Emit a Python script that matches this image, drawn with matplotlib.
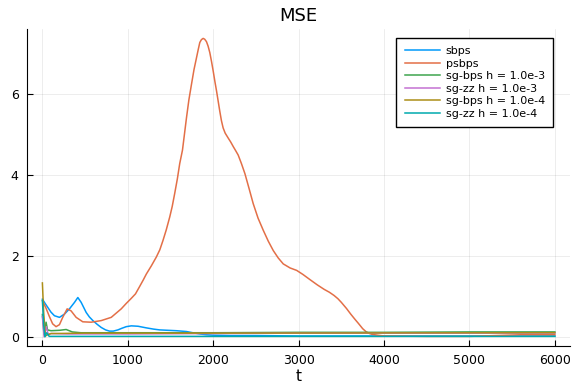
import matplotlib
matplotlib.use("Agg")
import matplotlib.pyplot as plt

# series names and colours (Plots.jl default palette)
labels = ["sbps", "psbps", "sg-bps h = 1.0e-3", "sg-zz h = 1.0e-3",
          "sg-bps h = 1.0e-4", "sg-zz h = 1.0e-4"]
colors = ["#009AFA", "#E36F47", "#3EA44E", "#C371D2", "#AC8E18", "#00A9AD"]

# sbps
t_sbps = [0, 30, 62, 100, 141, 200, 258, 317, 376, 415, 454, 513, 550, 591,
          640, 689, 740, 786, 830, 884, 930, 982, 1041, 1120, 1217, 1300,
          1373, 1470, 1569, 1687, 1760, 1843, 1920, 2000, 2200, 2500, 3000,
          4000, 5000, 6000]
mse_sbps = [0.93, 0.83, 0.73, 0.61, 0.52, 0.48, 0.56, 0.69, 0.85, 0.97, 0.85,
            0.60, 0.49, 0.40, 0.31, 0.23, 0.17, 0.14, 0.14, 0.17, 0.21, 0.25,
            0.27, 0.26, 0.22, 0.19, 0.17, 0.16, 0.15, 0.13, 0.10, 0.07, 0.05,
            0.04, 0.03, 0.03, 0.02, 0.02, 0.02, 0.02]

# psbps
t_psbps = [0, 40, 82, 120, 160, 200, 238, 290, 336, 395, 473, 571, 689, 806,
           923, 980, 1041, 1090, 1138, 1180, 1217, 1275, 1334, 1375, 1412,
           1450, 1491, 1520, 1549, 1580, 1608, 1640, 1660, 1687, 1715, 1745,
           1775, 1804, 1825, 1843, 1862, 1882, 1900, 1921, 1940, 1960, 1980,
           2000, 2020, 2039, 2058, 2077, 2096, 2116, 2140, 2175, 2205, 2234,
           2262, 2292, 2330, 2371, 2420, 2468, 2525, 2586, 2645, 2703, 2760,
           2820, 2900, 2977, 3050, 3134, 3220, 3300, 3360, 3415, 3460, 3500,
           3560, 3610, 3660, 3700, 3750, 3787, 3830, 3860, 3923, 4000, 4500,
           5000, 5300, 5600, 6000]
mse_psbps = [0.89, 0.72, 0.50, 0.32, 0.25, 0.30, 0.48, 0.69, 0.64, 0.48, 0.37,
             0.36, 0.40, 0.48, 0.69, 0.82, 0.95, 1.06, 1.24, 1.40, 1.55, 1.75,
             1.97, 2.15, 2.38, 2.64, 2.96, 3.22, 3.54, 3.90, 4.28, 4.61, 4.95,
             5.41, 5.85, 6.23, 6.60, 6.89, 7.10, 7.27, 7.34, 7.37, 7.35, 7.29,
             7.18, 7.02, 6.80, 6.56, 6.30, 6.07, 5.82, 5.57, 5.34, 5.16, 5.03,
             4.91, 4.81, 4.70, 4.60, 4.49, 4.28, 4.03, 3.66, 3.29, 2.93, 2.63,
             2.36, 2.13, 1.95, 1.80, 1.70, 1.64, 1.54, 1.41, 1.28, 1.17, 1.10,
             1.02, 0.94, 0.85, 0.70, 0.56, 0.43, 0.33, 0.20, 0.13, 0.08, 0.06,
             0.04, 0.02, 0.01, 0.01, 0.03, 0.05, 0.05]

# sg-bps h = 1e-3
t_sgbps3 = [0, 20, 43, 60, 100, 200, 278, 350, 450, 1000, 2000, 3000, 4000,
            5000, 6000]
mse_sgbps3 = [0.55, 0.05, 0.36, 0.17, 0.15, 0.16, 0.18, 0.12, 0.10, 0.10, 0.10,
              0.11, 0.11, 0.12, 0.12]

# sg-zz h = 1e-3
t_sgzz3 = [0, 20, 45, 70, 100, 300, 1000, 2000, 3000, 4000, 5000, 6000]
mse_sgzz3 = [0.50, 0.00, 0.25, 0.05, 0.08, 0.07, 0.07, 0.08, 0.09, 0.09, 0.09,
             0.09]

# sg-bps h = 1e-4
t_sgbps4 = [0, 15, 35, 60, 100, 500, 2000, 6000]
mse_sgbps4 = [1.33, 0.60, 0.02, 0.05, 0.08, 0.09, 0.09, 0.10]

# sg-zz h = 1e-4
t_sgzz4 = [0, 15, 30, 50, 80, 6000]
mse_sgzz4 = [0.90, 0.30, 0.00, 0.10, 0.01, 0.01]

series = [(t_sbps, mse_sbps), (t_psbps, mse_psbps), (t_sgbps3, mse_sgbps3),
          (t_sgzz3, mse_sgzz3), (t_sgbps4, mse_sgbps4), (t_sgzz4, mse_sgzz4)]

fig = plt.figure(figsize=(5.81, 3.88), dpi=100)
ax = fig.add_axes([0.0465, 0.108, 0.935, 0.817])

for (t, y), lab, c in zip(series, labels, colors):
    ax.plot(t, y, color=c, lw=1.1, label=lab)

ax.set_xlim(-180, 6180)
ax.set_ylim(-0.23, 7.6)
ax.set_xticks([0, 1000, 2000, 3000, 4000, 5000, 6000])
ax.set_yticks([0, 2, 4, 6])
ax.grid(True, color="black", alpha=0.1, lw=0.5)
ax.tick_params(direction="in", length=4, labelsize=9, pad=6)
for s in ["top", "right"]:
    ax.spines[s].set_visible(False)

ax.set_title("MSE", fontsize=13)
ax.set_xlabel("t", fontsize=11, labelpad=1)

leg = ax.legend(loc="upper right", bbox_to_anchor=(0.969, 0.972),
                borderaxespad=0, fontsize=8, fancybox=False, framealpha=1,
                edgecolor="black", handlelength=3.2, handletextpad=0.5,
                labelspacing=0.22, borderpad=0.75)
leg.get_frame().set_linewidth(1)

fig.savefig("out.png", dpi=100)
